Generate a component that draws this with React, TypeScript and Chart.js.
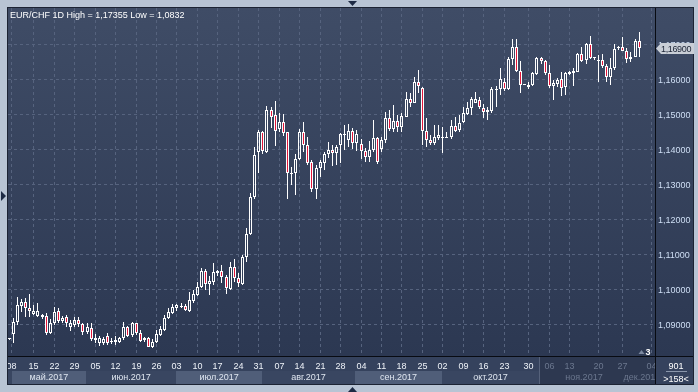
import { useEffect, useRef } from "react";
import { Chart, registerables } from "chart.js";
Chart.register(...registerables);

// ---------- data ----------
const opens = [1.0857,1.0870,1.0907,1.0952,1.0962,1.0945,1.0930,1.0924,1.0927,1.0923,
1.0875,1.0902,1.0937,1.0910,1.0919,1.0890,1.0897,1.0911,1.0899,1.0876,
1.0888,1.0855,1.0847,1.0847,1.0866,1.0848,1.0849,1.0849,1.0859,1.0890,
1.0869,1.0902,1.0873,1.0853,1.0859,1.0835,1.0849,1.0869,1.0883,1.0916,
1.0932,1.0945,1.0948,1.0951,1.0938,1.0967,1.0983,1.1007,1.1052,1.1014,
1.1021,1.1047,1.1052,1.1034,1.1000,1.1062,1.1031,1.1015,1.1091,1.1158,
1.1262,1.1391,1.1448,1.1393,1.1512,1.1498,1.1458,1.1477,1.1448,1.1333,
1.1331,1.1372,1.1450,1.1412,1.1364,1.1286,1.1345,1.1362,1.1385,1.1398,
1.1390,1.1412,1.1440,1.1426,1.1452,1.1417,1.1415,1.1396,1.1379,1.1398,
1.1431,1.1402,1.1426,1.1488,1.1458,1.1481,1.1464,1.1493,1.1543,1.1533,
1.1591,1.1574,1.1452,1.1426,1.1419,1.1433,1.1433,1.1436,1.1434,1.1466,
1.1455,1.1479,1.1501,1.1517,1.1533,1.1541,1.1517,1.1506,1.1509,1.1569,
1.1572,1.1591,1.1571,1.1658,1.1691,1.1624,1.1585,1.1579,1.1584,1.1614,
1.1660,1.1652,1.1617,1.1581,1.1586,1.1600,1.1577,1.1616,1.1617,1.1622,
1.1671,1.1655,1.1700,1.1660,1.1652,1.1655,1.1638,1.1607,1.1633,1.1690,
1.1693,1.1682,1.1657,1.1665,1.1709];

const highs = [1.0858,1.0918,1.0978,1.0971,1.0973,1.0986,1.0954,1.0959,1.0930,1.0932,
1.0913,1.0948,1.0945,1.0924,1.0926,1.0911,1.0921,1.0919,1.0904,1.0904,
1.0902,1.0870,1.0866,1.0864,1.0873,1.0859,1.0866,1.0862,1.0907,1.0894,
1.0907,1.0904,1.0883,1.0864,1.0864,1.0857,1.0883,1.0894,1.0926,1.0945,
1.0956,1.0957,1.0959,1.0957,1.0992,1.0997,1.1021,1.1059,1.1057,1.1036,
1.1074,1.1055,1.1069,1.1040,1.1076,1.1086,1.1047,1.1096,1.1174,1.1274,
1.1405,1.1455,1.1452,1.1523,1.1522,1.1538,1.1503,1.1500,1.1450,1.1350,
1.1385,1.1458,1.1477,1.1436,1.1369,1.1355,1.1369,1.1391,1.1421,1.1412,
1.1412,1.1447,1.1469,1.1471,1.1460,1.1455,1.1428,1.1404,1.1424,1.1484,
1.1436,1.1434,1.1507,1.1512,1.1526,1.1498,1.1503,1.1565,1.1560,1.1607,
1.1626,1.1577,1.1488,1.1441,1.1469,1.1469,1.1464,1.1450,1.1484,1.1493,
1.1498,1.1522,1.1536,1.1548,1.1565,1.1550,1.1529,1.1522,1.1579,1.1582,
1.1631,1.1603,1.1663,1.1715,1.1715,1.1652,1.1587,1.1593,1.1620,1.1665,
1.1665,1.1655,1.1641,1.1598,1.1603,1.1622,1.1620,1.1624,1.1633,1.1674,
1.1693,1.1703,1.1725,1.1665,1.1669,1.1671,1.1643,1.1660,1.1700,1.1696,
1.1722,1.1690,1.1677,1.1715,1.17355];

const lows = [1.0855,1.0847,1.0897,1.0935,1.0921,1.0919,1.0926,1.0921,1.0913,1.0869,
1.0871,1.0897,1.0902,1.0902,1.0890,1.0881,1.0892,1.0892,1.0869,1.0871,
1.0852,1.0845,1.0838,1.0840,1.0840,1.0842,1.0839,1.0845,1.0854,1.0864,
1.0864,1.0869,1.0848,1.0849,1.0834,1.0832,1.0847,1.0866,1.0881,1.0913,
1.0930,1.0938,1.0945,1.0937,1.0935,1.0959,1.0981,1.1002,1.0997,1.0983,
1.1012,1.1036,1.1017,1.0986,1.0997,1.1021,1.1005,1.1012,1.1078,1.1155,
1.1258,1.1333,1.1386,1.1388,1.1460,1.1410,1.1448,1.1439,1.1259,1.1298,
1.1269,1.1369,1.1391,1.1355,1.1279,1.1257,1.1320,1.1340,1.1374,1.1353,
1.1355,1.1362,1.1398,1.1405,1.1402,1.1396,1.1373,1.1364,1.1364,1.1393,
1.1358,1.1393,1.1417,1.1453,1.1450,1.1450,1.1450,1.1491,1.1522,1.1531,
1.1560,1.1412,1.1407,1.1412,1.1412,1.1426,1.1388,1.1431,1.1429,1.1450,
1.1450,1.1476,1.1498,1.1498,1.1531,1.1514,1.1488,1.1484,1.1505,1.1522,
1.1555,1.1566,1.1569,1.1641,1.1620,1.1560,1.1583,1.1572,1.1582,1.1612,
1.1643,1.1612,1.1574,1.1541,1.1577,1.1553,1.1555,1.1612,1.1582,1.1620,
1.1650,1.1643,1.1658,1.1654,1.1591,1.1633,1.1591,1.1584,1.1627,1.1685,
1.1681,1.1646,1.1650,1.1663,1.1665];

const closes = [1.0856,1.0907,1.0954,1.0962,1.0945,1.0938,1.0938,1.0937,1.0919,1.0875,
1.0904,1.0935,1.0910,1.0916,1.0902,1.0904,1.0911,1.0899,1.0878,1.0892,
1.0856,1.0861,1.0859,1.0857,1.0847,1.0851,1.0854,1.0859,1.0890,1.0867,
1.0904,1.0873,1.0852,1.0859,1.0835,1.0848,1.0871,1.0886,1.0918,1.0935,
1.0950,1.0954,1.0951,1.0940,1.0969,1.0986,1.1007,1.1052,1.1014,1.1023,
1.1048,1.1052,1.1034,1.1002,1.1062,1.1031,1.1017,1.1093,1.1157,1.1264,
1.1383,1.1448,1.1395,1.1512,1.1493,1.1453,1.1477,1.1445,1.1331,1.1329,
1.1372,1.1450,1.1412,1.1361,1.1286,1.1345,1.1364,1.1386,1.1398,1.1388,
1.1405,1.1443,1.1443,1.1452,1.1417,1.1443,1.1396,1.1377,1.1398,1.1431,
1.1364,1.1426,1.1488,1.1457,1.1481,1.1464,1.1495,1.1543,1.1533,1.1591,
1.1582,1.1452,1.1426,1.1417,1.1434,1.1441,1.1436,1.1432,1.1466,1.1453,
1.1474,1.1505,1.1519,1.1543,1.1543,1.1520,1.1506,1.1512,1.1572,1.1572,
1.1601,1.1571,1.1658,1.1691,1.1624,1.1585,1.1586,1.1584,1.1617,1.1660,
1.1652,1.1617,1.1582,1.1588,1.1598,1.1576,1.1617,1.1620,1.1624,1.1671,
1.1653,1.1700,1.1662,1.1661,1.1655,1.1638,1.1607,1.1633,1.1688,1.1691,
1.1682,1.1657,1.1665,1.1709,1.1690];

// week ticks (bar index of the week's first bar) and their labels
const weekTickPos = [0.6,6,11,16,21,26,31,36,41,46,51,56,61,66,71,76,81,86,91,96,101,106,111,116,121,127,132,137,144,150,157];
const weekTickLabels = ["08","15","22","29","05","12","19","26","03","10","17","24","31","07","14","21","28","04","11","18","25","02","09","16","23","30","06","13","20","27","04"];

// month bands (bar index where each month starts)
const monthStartPos = [0.6, 18.8, 40.8, 61.8, 84.5, 105.8, 129.5, 151.5];
const monthLabels = ["май.2017","июн.2017","июл.2017","авг.2017","сен.2017","окт.2017","ноя.2017","дек.2017"];
const dimFromMonth = 6;

const priceTicks = [1.09, 1.10, 1.11, 1.12, 1.13, 1.14, 1.15, 1.16, 1.17];
const lastPrice = 1.169;
const titleText = "EUR/CHF 1D High = 1,17355 Low = 1,0832";
const barsInfo = "901";
const scrollInfo = ">158<";
const markerText = "3";

// ---------- layout / style ----------
const W = 698, H = 392;
const AREA_L = 8, AREA_T = 8, AREA_R = 655, AREA_B = 356;
const PANEL_R = 693, AXIS_B = 384;
const FONT = "9px 'Liberation Sans', Arial, sans-serif";
const FRAME = "#b8c4d4";
const RED = "#e2163a";

const fmt = (v: number, d: number) => v.toFixed(d).replace(".", ",");

const bgPlugin = {
  id: "bgPlugin",
  beforeDraw(chart: any) {
    const { ctx } = chart;
    const x = chart.scales.x;
    ctx.save();
    ctx.fillStyle = FRAME;
    ctx.fillRect(0, 0, W, H);
    ctx.fillStyle = "#1c2333";
    ctx.fillRect(AREA_L - 1, AREA_T - 1, PANEL_R - AREA_L + 2, AXIS_B - AREA_T + 2);
    const g = ctx.createLinearGradient(0, AREA_T, 0, AREA_B);
    g.addColorStop(0, "#3f4c66");
    g.addColorStop(1, "#2c3852");
    ctx.fillStyle = g;
    ctx.fillRect(AREA_L, AREA_T, PANEL_R - AREA_L, AREA_B - AREA_T);
    // bottom axis rows
    ctx.fillStyle = "#35425d";
    ctx.fillRect(AREA_L, AREA_B, PANEL_R - AREA_L, AXIS_B - AREA_B);
    ctx.fillStyle = "#394661";
    ctx.fillRect(AREA_L, 371, AREA_R - AREA_L, AXIS_B - 371);
    for (let k = 0; k < monthStartPos.length; k++) {
      const x0 = Math.max(AREA_L, Math.round(x.getPixelForValue(monthStartPos[k])));
      const x1 = Math.min(AREA_R, k + 1 < monthStartPos.length ? Math.round(x.getPixelForValue(monthStartPos[k + 1])) : AREA_R);
      if (k % 2 === 0 && k < dimFromMonth) {
        ctx.fillStyle = "#505e79";
        ctx.fillRect(x0, 371, x1 - x0, AXIS_B - 371);
      }
    }
    const dx = Math.round(x.getPixelForValue(monthStartPos[dimFromMonth]));
    ctx.fillStyle = "#2d3850";
    ctx.fillRect(dx, AREA_B, AREA_R - dx, AXIS_B - AREA_B);
    ctx.fillStyle = "#56627b";
    ctx.fillRect(dx, AREA_B + 1, 1, AXIS_B - AREA_B - 1);
    ctx.restore();
  },
  beforeDatasetsDraw(chart: any) {
    const { ctx, chartArea: a } = chart;
    const x = chart.scales.x, y = chart.scales.y;
    ctx.save();
    ctx.beginPath();
    ctx.rect(a.left, a.top, a.right - a.left, a.bottom - a.top);
    ctx.clip();
    ctx.strokeStyle = "#56637e";
    ctx.lineWidth = 1;
    ctx.setLineDash([3, 3]);
    for (const v of priceTicks) {
      const py = Math.round(y.getPixelForValue(v)) + 0.5;
      ctx.beginPath();
      ctx.moveTo(a.left, py);
      ctx.lineTo(a.right, py);
      ctx.stroke();
    }
    for (const p of weekTickPos) {
      const px = Math.floor(x.getPixelForValue(p)) + 0.5;
      ctx.beginPath();
      ctx.moveTo(px, a.top);
      ctx.lineTo(px, a.bottom);
      ctx.stroke();
    }
    ctx.restore();
    // snap bars to the pixel grid for crisp candles
    chart.data.datasets.forEach((_: any, di: number) => {
      const meta = chart.getDatasetMeta(di);
      meta.data.forEach((el: any) => {
        el.x = Math.floor(el.x) + 0.5;
        el.y = Math.round(el.y);
        el.base = Math.round(el.base);
      });
    });
  },
  afterDraw(chart: any) {
    const { ctx } = chart;
    const x = chart.scales.x, y = chart.scales.y;
    ctx.save();
    // separators
    ctx.fillStyle = "#080b12";
    ctx.fillRect(AREA_L, AREA_B, PANEL_R - AREA_L, 1);
    ctx.fillRect(AREA_R, AREA_T, 1, AXIS_B - AREA_T);
    ctx.font = FONT;
    // title
    ctx.fillStyle = "#ffffff";
    ctx.textAlign = "left";
    ctx.textBaseline = "alphabetic";
    ctx.fillText(titleText, 10, 18);
    // price labels
    ctx.fillStyle = "#cfdff5";
    for (const v of priceTicks) {
      const py = y.getPixelForValue(v);
      ctx.fillText(fmt(v, 5), 658, Math.round(py) + 3.5);
    }
    // last price box
    const ly = Math.round(y.getPixelForValue(lastPrice));
    ctx.fillStyle = "#c9ced6";
    ctx.beginPath();
    ctx.moveTo(656, ly + 0.5);
    ctx.lineTo(661, ly - 5);
    ctx.lineTo(694, ly - 5);
    ctx.lineTo(694, ly + 6);
    ctx.lineTo(661, ly + 6);
    ctx.closePath();
    ctx.fill();
    ctx.fillStyle = "#1b2335";
    ctx.save();
    (ctx as any).letterSpacing = "-0.35px";
    ctx.fillText(fmt(lastPrice, 5), 661, ly + 4);
    ctx.restore();
    // bottom axis labels (clipped to plot width)
    ctx.save();
    ctx.beginPath();
    ctx.rect(AREA_L, AREA_B, AREA_R - AREA_L, AXIS_B - AREA_B);
    ctx.clip();
    ctx.textAlign = "center";
    const dimPos = monthStartPos[dimFromMonth];
    weekTickPos.forEach((p, i) => {
      const px = Math.floor(x.getPixelForValue(p)) + 0.5;
      ctx.fillStyle = p >= dimPos ? "#6b778e" : "#eef2f8";
      ctx.fillText(weekTickLabels[i], px, 368.5);
    });
    for (let k = 0; k < monthStartPos.length; k++) {
      const x0 = Math.max(AREA_L, x.getPixelForValue(monthStartPos[k]));
      const x1 = Math.min(AREA_R, k + 1 < monthStartPos.length ? x.getPixelForValue(monthStartPos[k + 1]) : AREA_R);
      ctx.fillStyle = k >= dimFromMonth ? "#6b778e" : "#dfe6f0";
      ctx.fillText(monthLabels[k], (x0 + x1) / 2, 380);
    }
    ctx.restore();
    // right bottom info
    ctx.textAlign = "center";
    ctx.fillStyle = "#ffffff";
    ctx.fillText(barsInfo, 676, 368.5);
    ctx.fillText(scrollInfo, 676, 381.5);
    ctx.fillStyle = "#8a96ab";
    ctx.fillRect(666, 371, 21, 1);
    // marker "3"
    ctx.font = "bold 9px 'Liberation Sans', Arial, sans-serif";
    ctx.fillStyle = "#ffffff";
    ctx.fillText(markerText, 648, 354.5);
    ctx.fillStyle = "#7c89a0";
    ctx.beginPath();
    ctx.moveTo(638.5, 354);
    ctx.lineTo(641.5, 350);
    ctx.lineTo(644.5, 354);
    ctx.closePath();
    ctx.fill();
    // frame triangles
    ctx.fillStyle = "#1d2a44";
    ctx.beginPath();
    ctx.moveTo(348, 1); ctx.lineTo(357, 1); ctx.lineTo(352.5, 6); ctx.closePath(); ctx.fill();
    ctx.beginPath();
    ctx.moveTo(348, 392); ctx.lineTo(357, 392); ctx.lineTo(352.5, 387); ctx.closePath(); ctx.fill();
    ctx.beginPath();
    ctx.moveTo(1, 191); ctx.lineTo(1, 201); ctx.lineTo(6, 196); ctx.closePath(); ctx.fill();
    ctx.restore();
  },
};

export default function App() {
  const ref = useRef<HTMLCanvasElement>(null);
  useEffect(() => {
    const canvas = ref.current;
    if (!canvas) return;
    const idx = closes.map((_, i) => i);
    const bodies = idx.map((i) => ({ x: i, y: [opens[i], closes[i]] }));
    const upper = idx.map((i) => ({ x: i, y: [Math.max(opens[i], closes[i]), highs[i]] }));
    const lower = idx.map((i) => ({ x: i, y: [lows[i], Math.min(opens[i], closes[i])] }));
    const bodyColors = idx.map((i) => (closes[i] >= opens[i] ? "rgba(0,0,0,0)" : RED));
    const chart = new Chart(canvas, {
      type: "bar",
      data: {
        datasets: [
          {
            label: "body",
            data: bodies as any,
            backgroundColor: bodyColors,
            borderColor: "#ffffff",
            borderWidth: 1,
            borderSkipped: false,
            barThickness: 3,
            minBarLength: 1,
            grouped: false,
            inflateAmount: 0,
            clip: 0,
            order: 0,
          } as any,
          {
            label: "upper",
            data: upper as any,
            backgroundColor: "#ffffff",
            borderWidth: 0,
            barThickness: 1,
            grouped: false,
            inflateAmount: 0,
            clip: 0,
            order: 1,
          } as any,
          {
            label: "lower",
            data: lower as any,
            backgroundColor: "#ffffff",
            borderWidth: 0,
            barThickness: 1,
            grouped: false,
            inflateAmount: 0,
            clip: 0,
            order: 1,
          } as any,
        ],
      },
      options: {
        responsive: false,
        animation: false,
        events: [],
        layout: { padding: { left: AREA_L, top: AREA_T, right: W - AREA_R, bottom: H - AREA_B } },
        scales: {
          x: { type: "linear", min: -0.32, max: 157.87, offset: false, display: false },
          y: { type: "linear", min: 1.080846, max: 1.180398, display: false },
        },
        plugins: { legend: { display: false }, tooltip: { enabled: false } },
      },
      plugins: [bgPlugin],
    } as any);
    return () => chart.destroy();
  }, []);
  return (
    <div style={{ position: "fixed", left: 0, top: 0, width: W, height: H }}>
      <canvas ref={ref} width={W} height={H} style={{ display: "block", width: W, height: H }} />
    </div>
  );
}
